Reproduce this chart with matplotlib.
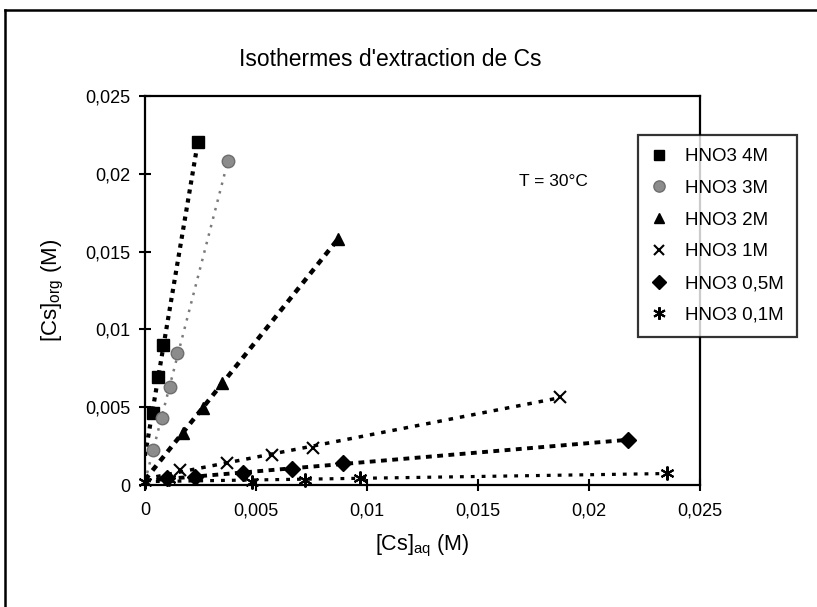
import numpy as np
import matplotlib
matplotlib.use("Agg")
import matplotlib.pyplot as plt
from matplotlib.lines import Line2D
from matplotlib.ticker import FixedLocator, FixedFormatter

plt.rcParams['font.family'] = ['Liberation Sans', 'DejaVu Sans']

# ---- data ----
labels = ["HNO3 4M", "HNO3 3M", "HNO3 2M", "HNO3 1M", "HNO3 0,5M", "HNO3 0,1M"]

x_4M = [0.00036, 0.00059, 0.00081, 0.00239]
y_4M = [0.00464, 0.00696, 0.00902, 0.02204]

x_3M = [0.00036, 0.00077, 0.00113, 0.00144, 0.00374]
y_3M = [0.00226, 0.00430, 0.00630, 0.00850, 0.02080]

x_2M = [0.00171, 0.00261, 0.00347, 0.00869]
y_2M = [0.00335, 0.00496, 0.00657, 0.01579]

x_1M = [0.00158, 0.00369, 0.00572, 0.00757, 0.01869]
y_1M = [0.00097, 0.00142, 0.00193, 0.00238, 0.00567]

x_05M = [0.00100, 0.00225, 0.00441, 0.00662, 0.00892, 0.02176]
y_05M = [0.00045, 0.00050, 0.00077, 0.00103, 0.00142, 0.00290]

x_01M = [0.00000, 0.00110, 0.00482, 0.00720, 0.00968, 0.02351]
y_01M = [0.00020, 0.00040, 0.00020, 0.00030, 0.00045, 0.00077]

tick_vals = [0, 0.005, 0.01, 0.015, 0.02, 0.025]
tick_labels = ["0", "0,005", "0,01", "0,015", "0,02", "0,025"]

title = "Isothermes d'extraction de Cs"
note = "T = 30°C"

# ---- figure ----
W, H = 817, 607
fig = plt.figure(figsize=(W / 100, H / 100), dpi=100)
ax = fig.add_axes([145 / W, 1 - 485 / H, (700 - 145) / W, (485 - 96) / H])

series = [
    (x_4M, y_4M, dict(marker='s', color='black', ms=8, mec='black'),
     dict(color='black', lw=3.0, dashes=(1.0, 1.2))),
    (x_3M, y_3M, dict(marker='o', color='#8c8c8c', ms=9, mec='#6e6e6e'),
     dict(color='#7a7a7a', lw=1.8, dashes=(1.0, 2.5))),
    (x_2M, y_2M, dict(marker='^', color='black', ms=8, mec='black'),
     dict(color='black', lw=3.2, dashes=(1.4, 1.3))),
    (x_1M, y_1M, dict(marker='x', color='black', ms=8, mew=1.5),
     dict(color='black', lw=2.5, dashes=(1.3, 2.0))),
    (x_05M, y_05M, dict(marker='D', color='black', ms=8, mec='black'),
     dict(color='black', lw=2.8, dashes=(1.5, 1.4))),
    (x_01M, y_01M, dict(marker=(6, 2, 0), color='black', ms=10, mew=1.5),
     dict(color='black', lw=2.3, dashes=(1.2, 2.2))),
]

handles = []
for (xs, ys, mk, ln), lab in zip(series, labels):
    xs = np.array(xs); ys = np.array(ys)
    a, b = np.polyfit(xs, ys, 1)
    xf = np.array([0.0, xs.max()])
    ax.plot(xf, a * xf + b, solid_capstyle='butt', dash_capstyle='butt', zorder=2, **ln)
    h, = ax.plot(xs, ys, linestyle='none', zorder=3, clip_on=False, **mk)
    handles.append(h)

ax.set_xlim(0, 0.025)
ax.set_ylim(0, 0.025)
for axis in (ax.xaxis, ax.yaxis):
    axis.set_major_locator(FixedLocator(tick_vals))
    axis.set_major_formatter(FixedFormatter(tick_labels))
ax.tick_params(direction='inout', length=9, width=1.5, labelsize=13, pad=6)
ax.tick_params(axis='x', pad=8)
for s in ax.spines.values():
    s.set_linewidth(1.6)

ax.set_xlabel("[Cs]$_{\\mathregular{aq}}$ (M)", fontsize=15.5, labelpad=10)
ax.set_ylabel("[Cs]$_{\\mathregular{org}}$ (M)", fontsize=16, labelpad=14)

fig.text(390 / W, 1 - 60 / H, title, ha='center', va='center', fontsize=16.5)
ax.text(0.01685, 0.0195, note, ha='left', va='center', fontsize=12.5)

leg = ax.legend(handles, labels, loc='upper left',
                bbox_to_anchor=((638 - 145) / (700 - 145), 1 - (135 - 96) / (485 - 96)),
                frameon=True, fancybox=False, fontsize=13.5, handlelength=0.8,
                handletextpad=1.0, labelspacing=0.78, borderpad=0.7,
                borderaxespad=0, markerscale=0.9)
leg.get_frame().set_edgecolor('black')
leg.get_frame().set_linewidth(1.6)

# outer frame (left and top edges visible in the reference)
fig.add_artist(Line2D([5 / W, 5 / W], [0, 1 - 10 / H], transform=fig.transFigure, color='black', lw=1.8))
fig.add_artist(Line2D([5 / W, 1], [1 - 10 / H, 1 - 10 / H], transform=fig.transFigure, color='black', lw=1.8))

fig.savefig("out.png", dpi=100)
